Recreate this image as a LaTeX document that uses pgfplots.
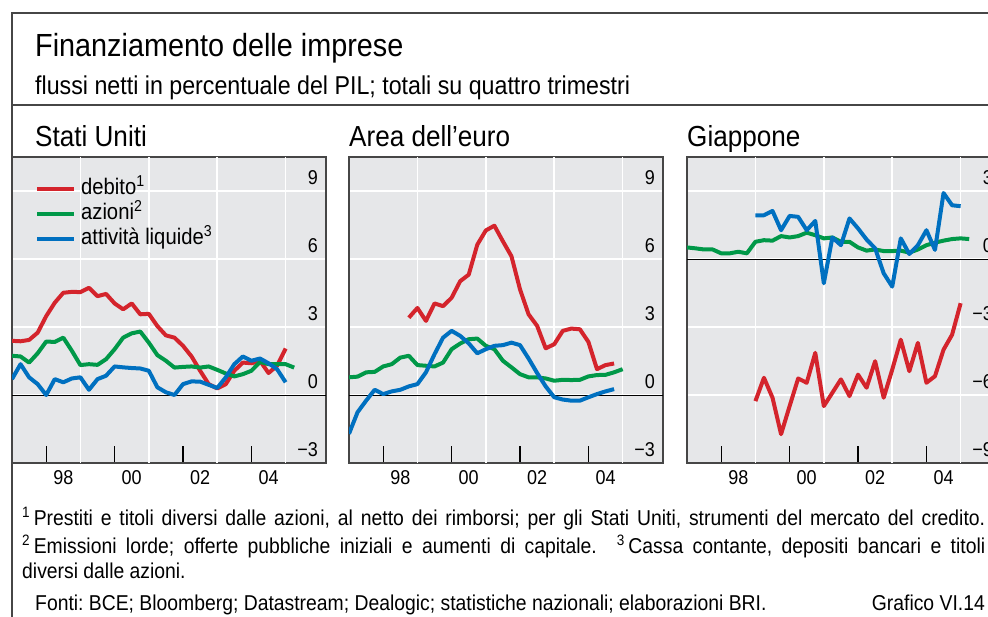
\documentclass[border=0pt]{standalone}
\usepackage{fontspec}
\setmainfont{Liberation Sans}[FakeStretch=0.9]
\usepackage{pgfplots}
\pgfplotsset{compat=1.18}
\frenchspacing

\definecolor{cred}{RGB}{212,36,44}
\definecolor{cgreen}{RGB}{0,152,72}
\definecolor{cblue}{RGB}{0,112,192}
\definecolor{bg}{RGB}{230,231,233}
\definecolor{framec}{RGB}{70,70,70}

\newcommand\ticksize{\fontsize{20bp}{22bp}\selectfont}
\newcommand\legsize{\fontsize{22.5bp}{24bp}\selectfont}
\newcommand\footsize{\fontsize{21.5bp}{23bp}\selectfont}

\pgfplotsset{
  panel/.style={
    scale only axis, width=314bp, height=306bp,
    xmin=1997, xmax=2006.18,
    axis background/.style={fill=bg},
    axis line style={draw=framec, line width=1.3bp},
    tick align=inside,
    xtick pos=lower, ytick pos=right, yticklabel pos=right,
    xtick={1998.5,2000.5,2002.5,2004.5},
    xticklabels={98,00,02,04},
    minor xtick={1998,1999,...,2005},
    major tick length=0pt,
    minor tick length=17bp,
    minor tick style={draw=black, line width=1.2bp},
    ymajorgrids,
    major grid style={draw=white, line width=1.5bp},
    extra x ticks={1999,2001,2003,2005},
    extra x tick labels={},
    extra x tick style={grid=major},
    extra y ticks={0},
    extra y tick labels={},
    extra y tick style={grid=major, major grid style={draw=black, line width=1bp}},
    xticklabel style={font=\ticksize, anchor=north, inner sep=0pt, yshift=-7bp},
    yticklabel style={font=\ticksize, anchor=south east, inner sep=0pt, xshift=-8bp, yshift=6bp},
    no markers,
    every axis plot/.append style={line width=4bp, line join=round},
  },
}

% Stati Uniti
\pgfplotstableread{
x y
1997.00 2.39
1997.25 2.37
1997.50 2.43
1997.75 2.75
1998.00 3.48
1998.25 4.07
1998.50 4.51
1998.75 4.55
1999.00 4.54
1999.25 4.73
1999.50 4.36
1999.75 4.46
2000.00 4.04
2000.25 3.78
2000.50 4.04
2000.75 3.56
2001.00 3.58
2001.25 3.04
2001.50 2.63
2001.75 2.53
2002.00 2.17
2002.25 1.70
2002.50 1.07
2002.75 0.48
2003.00 0.29
2003.25 0.48
2003.50 1.07
2003.75 1.43
2004.00 1.40
2004.25 1.51
2004.50 0.97
2004.75 1.29
2005.00 2.05
}\usdeb
\pgfplotstableread{
x y
1997.00 1.73
1997.25 1.70
1997.50 1.43
1997.75 1.84
1998.00 2.36
1998.25 2.34
1998.50 2.53
1998.75 1.95
1999.00 1.32
1999.25 1.36
1999.50 1.33
1999.75 1.58
2000.00 2.02
2000.25 2.53
2000.50 2.72
2000.75 2.80
2001.00 2.31
2001.25 1.76
2001.50 1.51
2001.75 1.21
2002.00 1.24
2002.25 1.26
2002.50 1.21
2002.75 1.26
2003.00 1.11
2003.25 0.95
2003.50 0.82
2003.75 0.92
2004.00 1.07
2004.25 1.46
2004.50 1.36
2004.75 1.36
2005.00 1.36
2005.25 1.21
}\usazi
\pgfplotstableread{
x y
1997.00 0.70
1997.25 1.36
1997.50 0.78
1997.75 0.48
1998.00 0.00
1998.25 0.70
1998.50 0.56
1998.75 0.73
1999.00 0.78
1999.25 0.23
1999.50 0.70
1999.75 0.85
2000.00 1.26
2000.25 1.22
2000.50 1.19
2000.75 1.17
2001.00 1.07
2001.25 0.34
2001.50 0.12
2001.75 0.00
2002.00 0.48
2002.25 0.60
2002.50 0.59
2002.75 0.45
2003.00 0.31
2003.25 0.78
2003.50 1.36
2003.75 1.70
2004.00 1.51
2004.25 1.61
2004.50 1.40
2004.75 1.14
2005.00 0.56
}\usliq

% Area dell'euro
\pgfplotstableread{
x y
1998.75 3.41
1999.00 3.84
1999.25 3.27
1999.50 4.04
1999.75 3.92
2000.00 4.29
2000.25 5.02
2000.50 5.31
2000.75 6.63
2001.00 7.26
2001.25 7.47
2001.50 6.78
2001.75 6.12
2002.00 4.66
2002.25 3.56
2002.50 3.05
2002.75 2.06
2003.00 2.24
2003.25 2.83
2003.50 2.93
2003.75 2.90
2004.00 2.34
2004.25 1.14
2004.50 1.32
2004.75 1.39
}\eadeb
\pgfplotstableread{
x y
1997.00 0.78
1997.25 0.81
1997.50 1.00
1997.75 1.02
1998.00 1.26
1998.25 1.36
1998.50 1.65
1998.75 1.73
1999.00 1.32
1999.25 1.29
1999.50 1.26
1999.75 1.43
2000.00 2.02
2000.25 2.27
2000.50 2.46
2000.75 2.49
2001.00 2.17
2001.25 2.02
2001.50 1.51
2001.75 1.22
2002.00 0.92
2002.25 0.78
2002.50 0.78
2002.75 0.73
2003.00 0.63
2003.25 0.67
2003.50 0.66
2003.75 0.67
2004.00 0.82
2004.25 0.88
2004.50 0.89
2004.75 1.00
2005.00 1.14
}\eaazi
\pgfplotstableread{
x y
1997.00 -1.71
1997.25 -0.76
1997.50 -0.25
1997.75 0.23
1998.00 0.04
1998.25 0.16
1998.50 0.23
1998.75 0.38
1999.00 0.48
1999.25 1.00
1999.50 1.80
1999.75 2.53
2000.00 2.83
2000.25 2.61
2000.50 2.28
2000.75 1.84
2001.00 2.02
2001.25 2.17
2001.50 2.20
2001.75 2.31
2002.00 2.20
2002.25 1.61
2002.50 0.97
2002.75 0.38
2003.00 -0.10
2003.25 -0.20
2003.50 -0.25
2003.75 -0.25
2004.00 -0.10
2004.25 0.04
2004.50 0.16
2004.75 0.26
}\ealiq

% Giappone
\pgfplotstableread{
x y
1999.00 -6.27
1999.25 -5.24
1999.50 -6.12
1999.75 -7.73
2000.00 -6.49
2000.25 -5.27
2000.50 -5.46
2000.75 -4.14
2001.00 -6.49
2001.25 -5.90
2001.50 -5.31
2001.75 -6.05
2002.00 -5.10
2002.25 -5.68
2002.50 -4.51
2002.75 -6.12
2003.00 -4.88
2003.25 -3.56
2003.50 -4.95
2003.75 -3.70
2004.00 -5.46
2004.25 -5.17
2004.50 -4.00
2004.75 -3.34
2005.00 -1.95
}\jpdeb
\pgfplotstableread{
x y
1997.00 0.51
1997.25 0.47
1997.50 0.42
1997.75 0.42
1998.00 0.25
1998.25 0.25
1998.50 0.32
1998.75 0.25
1999.00 0.76
1999.25 0.83
1999.50 0.81
1999.75 1.01
2000.00 0.95
2000.25 1.01
2000.50 1.16
2000.75 1.05
2001.00 0.91
2001.25 0.95
2001.50 0.76
2001.75 0.76
2002.00 0.51
2002.25 0.37
2002.50 0.42
2002.75 0.35
2003.00 0.35
2003.25 0.37
2003.50 0.28
2003.75 0.42
2004.00 0.61
2004.25 0.72
2004.50 0.81
2004.75 0.88
2005.00 0.91
2005.25 0.88
}\jpazi
\pgfplotstableread{
x y
1999.00 1.93
1999.25 1.93
1999.50 2.12
1999.75 1.27
2000.00 1.90
2000.25 1.86
2000.50 1.27
2000.75 1.68
2001.00 -1.07
2001.25 0.95
2001.50 0.61
2001.75 1.79
2002.00 1.35
2002.25 0.86
2002.50 0.47
2002.75 -0.63
2003.00 -1.22
2003.25 0.91
2003.50 0.22
2003.75 0.61
2004.00 1.27
2004.25 0.40
2004.50 2.91
2004.75 2.37
2005.00 2.33
}\jpliq

\begin{document}
\begin{tikzpicture}
\path[use as bounding box, clip] (0bp,0bp) rectangle (988bp,-617bp);

% outer frame
\draw[framec, line width=1.3bp] (12bp,-617bp) -- (12bp,-13bp) -- (990bp,-13bp);
\draw[framec, line width=1.3bp] (12bp,-105bp) -- (990bp,-105bp);

\node[anchor=base west, inner sep=0pt, font=\fontsize{32bp}{36bp}\selectfont] at (35bp,-56bp) {Finanziamento delle imprese};
\node[anchor=base west, inner sep=0pt, font=\fontsize{25.8bp}{28bp}\selectfont] at (35bp,-94bp) {flussi netti in percentuale del PIL; totali su quattro trimestri};

\node[anchor=base west, inner sep=0pt, font=\fontsize{29bp}{31bp}\selectfont] at (35bp,-146bp) {Stati Uniti};
\node[anchor=base west, inner sep=0pt, font=\fontsize{29bp}{31bp}\selectfont] at (349bp,-146bp) {Area dell’euro};
\node[anchor=base west, inner sep=0pt, font=\fontsize{29bp}{31bp}\selectfont] at (687bp,-146bp) {Giappone};

\begin{axis}[panel, at={(12bp,-157bp)}, anchor=north west,
  ymin=-3, ymax=10.5, ytick={-3,0,3,6,9}, yticklabels={−3,0,3,6,9},
  legend style={at={(0.073,0.925)}, anchor=north west, draw=none, fill=none,
    font=\legsize, inner sep=0pt, row sep=7bp, column sep=5bp,
    nodes={inner sep=0pt, text height=14bp, text depth=4bp}},
  legend cell align=left,
  legend image code/.code={\draw[#1, line width=4bp] (0bp,0bp) -- (37bp,0bp);},
]
\addplot[cred] table {\usdeb};
\addlegendentry{debito\textsuperscript{1}}
\addplot[cgreen] table {\usazi};
\addlegendentry{azioni\textsuperscript{2}}
\addplot[cblue] table {\usliq};
\addlegendentry{attività liquide\textsuperscript{3}}
\end{axis}

\begin{axis}[panel, at={(349bp,-157bp)}, anchor=north west,
  ymin=-3, ymax=10.5, ytick={-3,0,3,6,9}, yticklabels={−3,0,3,6,9}]
\addplot[cred] table {\eadeb};
\addplot[cgreen] table {\eaazi};
\addplot[cblue] table {\ealiq};
\end{axis}

\begin{axis}[panel, at={(687bp,-157bp)}, anchor=north west,
  ymin=-9, ymax=4.5, ytick={-9,-6,-3,0,3}, yticklabels={−9,−6,−3,0,3}]
\addplot[cred] table {\jpdeb};
\addplot[cgreen] table {\jpazi};
\addplot[cblue] table {\jpliq};
\end{axis}

% notes (justified lines)
\node[anchor=base west, inner sep=0pt, font=\footsize] at (22bp,-525bp) {\makebox[963bp][s]{\textsuperscript{1}\,Prestiti e titoli diversi dalle azioni, al netto dei rimborsi; per gli Stati Uniti, strumenti del mercato del credito.}};
\node[anchor=base west, inner sep=0pt, font=\footsize] at (22bp,-553bp) {\makebox[963bp][s]{\textsuperscript{2}\,Emissioni lorde; offerte pubbliche iniziali e aumenti di capitale.\hspace{14bp plus 4bp}\textsuperscript{3}\,Cassa contante, depositi bancari e titoli}};
\node[anchor=base west, inner sep=0pt, font=\footsize] at (22bp,-578bp) {diversi dalle azioni.};
\node[anchor=base west, inner sep=0pt, font=\footsize] at (35bp,-610bp) {Fonti: BCE; Bloomberg; Datastream; Dealogic; statistiche nazionali; elaborazioni BRI.};
\node[anchor=base east, inner sep=0pt, font=\footsize] at (985bp,-610bp) {Grafico VI.14};
\end{tikzpicture}
\end{document}
